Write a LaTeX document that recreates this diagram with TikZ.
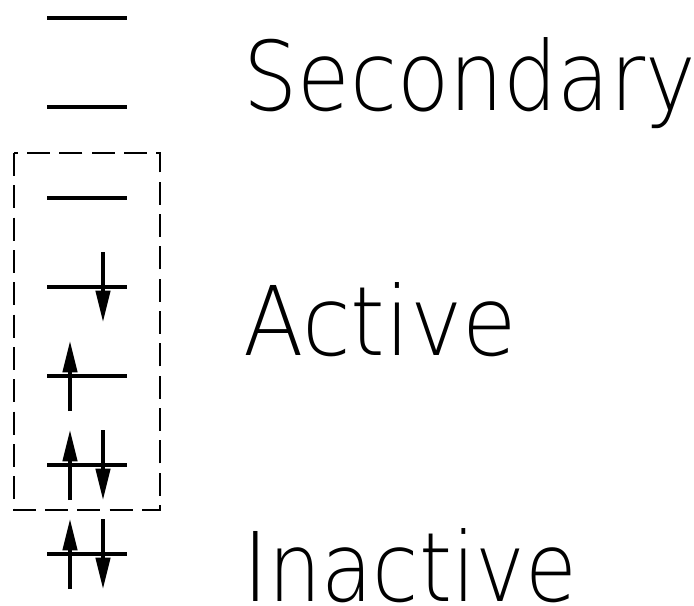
\documentclass[tikz,border=0pt]{standalone}
\usepackage{fontspec}
\setmainfont{DejaVu Sans ExtraLight}
\usetikzlibrary{arrows.meta,positioning}

\begin{document}
\begin{tikzpicture}[x=0.03cm, y=-0.03cm,
    level/.style={line width=2.8pt},
    spin/.style={line width=2.8pt, -{Triangle[length=9.4mm, width=4.3mm]}},
    shell/.style={anchor=base west, inner sep=0pt, font=\fontsize{82}{90}\selectfont}]
  \useasboundingbox (0,0) rectangle (694,605);
  % orbital levels, top to bottom
  \foreach \y [count=\i] in {18,107,198,287,376,465,554}
    \draw[level] (47,\y) -- (127,\y) coordinate (lvl\i);
  % electrons
  \coordinate (dn4a) at (103,252); \coordinate (dn4b) at (103,322);
  \coordinate (up5a) at (70,411);  \coordinate (up5b) at (70,341);
  \coordinate (up6a) at (70,500);  \coordinate (up6b) at (70,430);
  \coordinate (dn6a) at (103,430); \coordinate (dn6b) at (103,500);
  \coordinate (up7a) at (70,589);  \coordinate (up7b) at (70,519);
  \coordinate (dn7a) at (103,519); \coordinate (dn7b) at (103,589);
  \draw[spin] (dn4a) -- (dn4b);
  \draw[spin] (up5a) -- (up5b);
  \draw[spin] (up6a) -- (up6b);
  \draw[spin] (dn6a) -- (dn6b);
  \draw[spin] (up7a) -- (up7b);
  \draw[spin] (dn7a) -- (dn7b);
  % active space
  \draw[line width=1.7pt, dash pattern=on 6.9mm off 2.8mm] (14,153) rectangle (160,510);
  \node (secondary) [shell] at (243,110) {\scalebox{0.89}[1]{Secondary}};
  \node (active) [shell] at (243,355) {\scalebox{0.92}[1]{Active}};
  \node (inactive) [shell] at (243,601) {\scalebox{0.875}[1]{Inactive}};
\end{tikzpicture}
\end{document}
